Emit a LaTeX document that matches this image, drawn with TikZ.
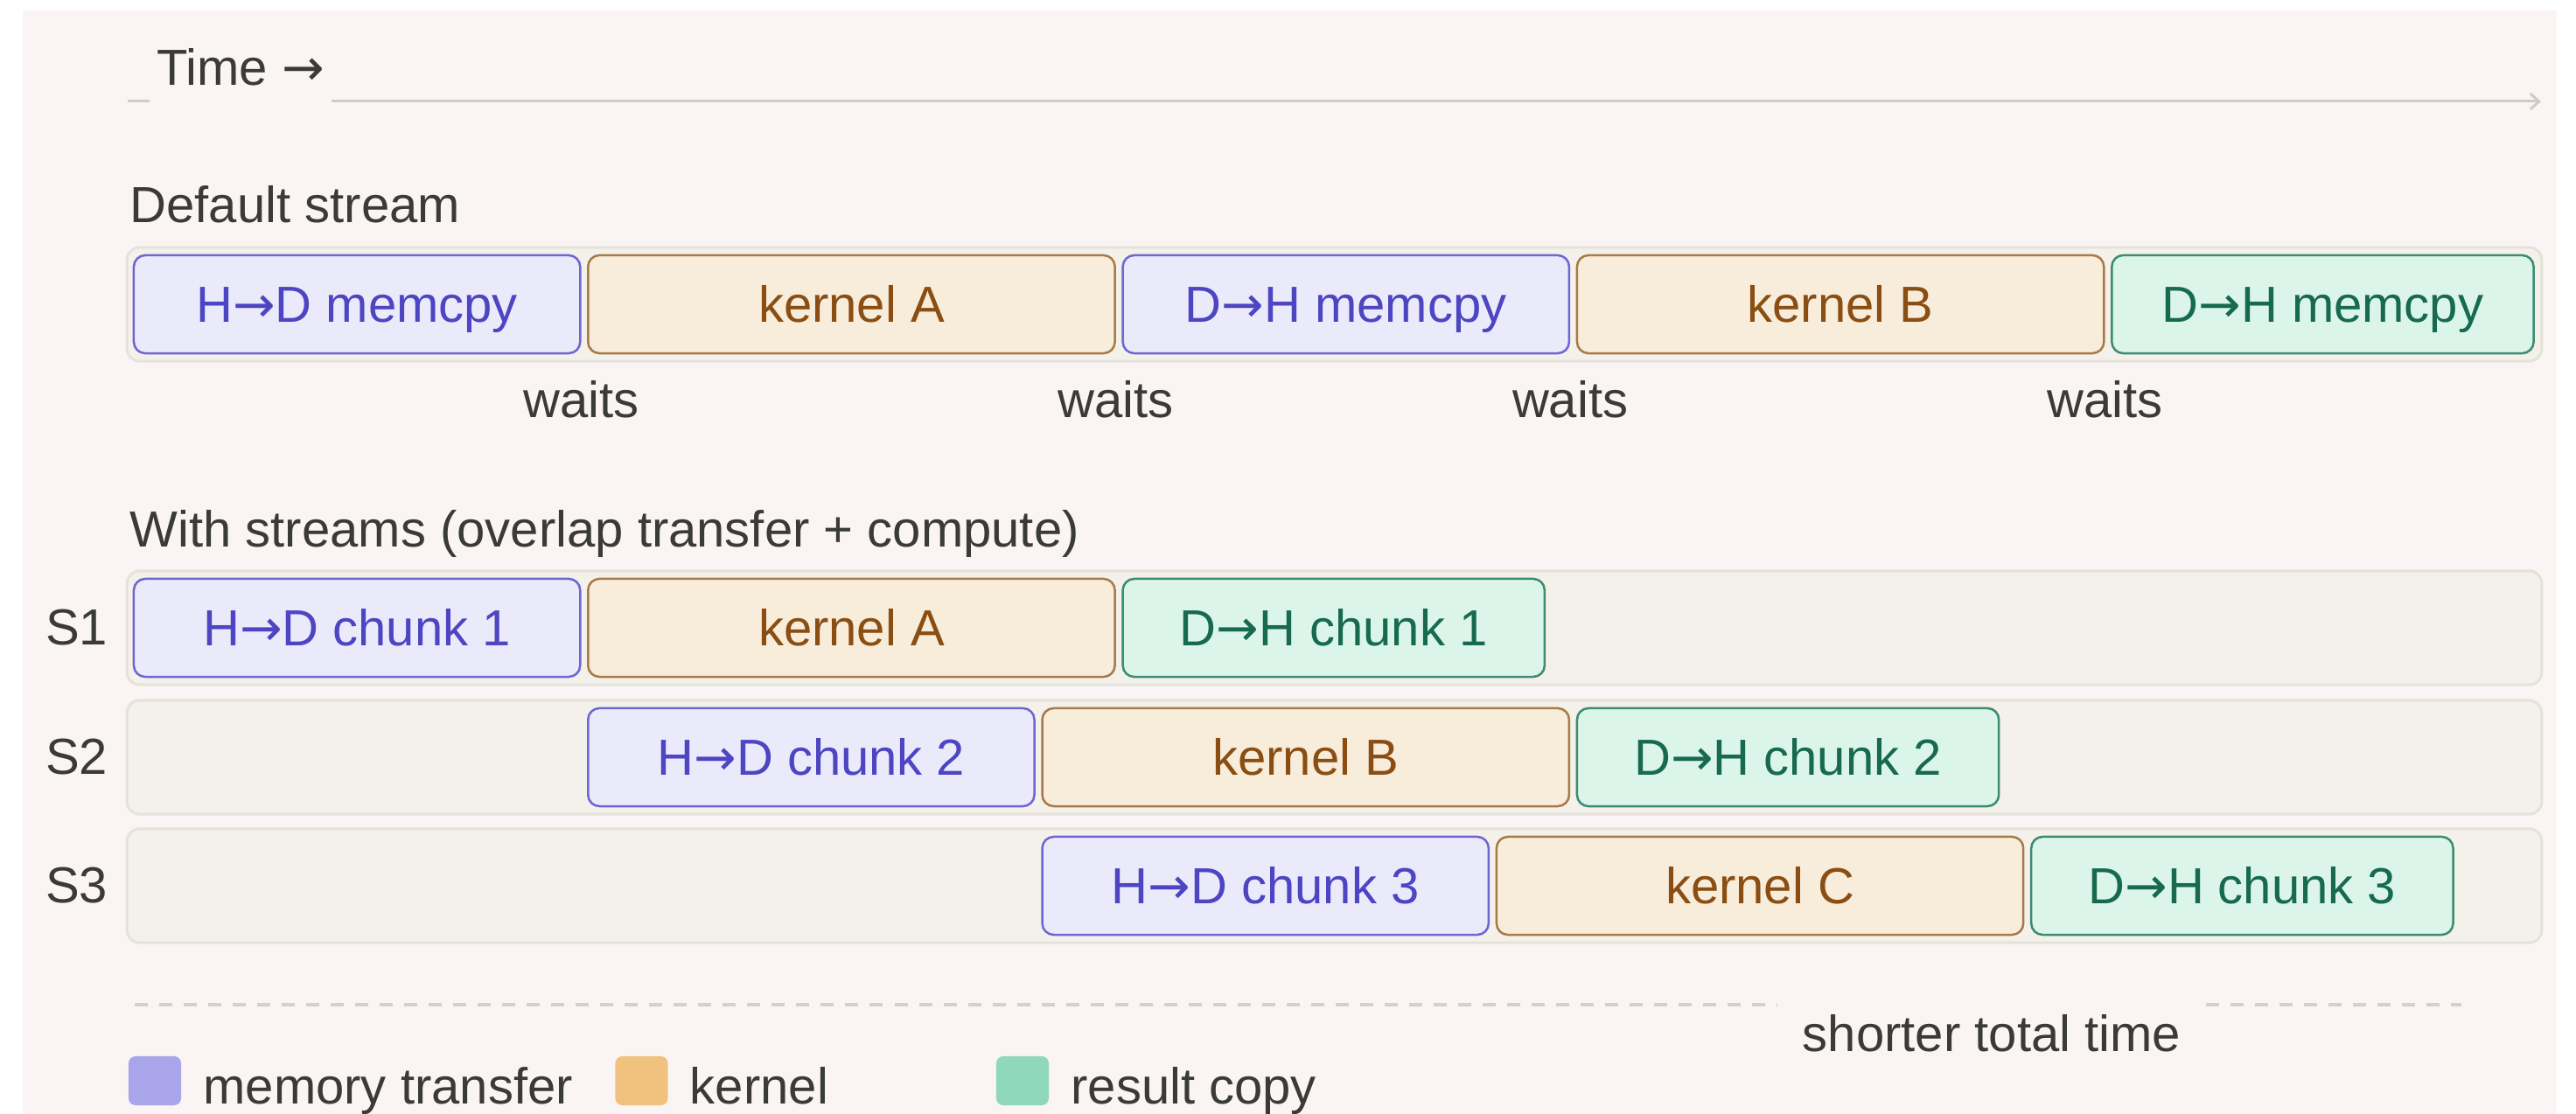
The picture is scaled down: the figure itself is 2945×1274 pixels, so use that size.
\documentclass[tikz,border=0pt]{standalone}
\usepackage{fontspec}
\setmainfont{Liberation Sans}
\newfontfamily\arrowfont{DejaVu Sans}
\usetikzlibrary{positioning}
\usetikzlibrary{arrows.meta}
\definecolor{pagebg}{HTML}{FAF5F4}
\definecolor{ink}{HTML}{3A3A36}
\definecolor{lanefill}{HTML}{F4F0EA}
\definecolor{laneline}{HTML}{E5E2DB}
\definecolor{xferfill}{HTML}{EBEAFB}
\definecolor{xferline}{HTML}{6E66D6}
\definecolor{xfertext}{HTML}{4D45C2}
\definecolor{kernfill}{HTML}{F8ECDB}
\definecolor{kernline}{HTML}{A87A48}
\definecolor{kerntext}{HTML}{8A4E12}
\definecolor{resfill}{HTML}{DCF5EA}
\definecolor{resline}{HTML}{3B8C71}
\definecolor{restext}{HTML}{176A50}
\definecolor{axiscol}{HTML}{CFCCC4}
\definecolor{dashcol}{HTML}{D4D1CA}
\definecolor{xferkey}{HTML}{A9A5EA}
\definecolor{kernkey}{HTML}{F1C27D}
\definecolor{reskey}{HTML}{90D8BC}
\newcommand{\diagramfont}{\fontsize{16.5}{20}\selectfont}
\newcommand{\ra}{{\arrowfont →}}
\tikzstyle{plain text} = [font=\diagramfont, text=ink, inner sep=0pt]
\tikzstyle{timeline box} = [rectangle, rounded corners=0.13cm, line width=0.025cm, minimum height=1.12cm, inner sep=0pt, text height=0.415cm, text depth=0pt, font=\diagramfont]
\tikzstyle{transfer box} = [timeline box, draw=xferline, fill=xferfill, text=xfertext, minimum width=5.1cm]
\tikzstyle{kernel box} = [timeline box, draw=kernline, fill=kernfill, text=kerntext, minimum width=6.02cm]
\tikzstyle{result box} = [timeline box, draw=resline, fill=resfill, text=restext, minimum width=4.82cm]
\tikzstyle{stream lane} = [rectangle, rounded corners=0.14cm, draw=laneline, fill=lanefill, line width=0.03cm, minimum width=27.59cm, minimum height=1.3cm, inner sep=0pt]
\tikzstyle{legend key} = [rectangle, rounded corners=0.08cm, minimum width=0.6cm, minimum height=0.56cm, inner sep=0pt]
\tikzstyle{time axis} = [draw=axiscol, line width=0.03cm]
\tikzstyle{total line} = [draw=dashcol, line width=0.035cm, dash pattern=on 0.15cm off 0.13cm]
\begin{document}
\begin{tikzpicture}[x=0.01cm, y=-0.01cm]
            \useasboundingbox (0,0) rectangle (2945,1274);
            \fill[white] (0,0) rectangle (2945,1274);
            \fill[pagebg] (26,12) rectangle (2923,1274);

            \coordinate (axisstart) at (146,116);
            \coordinate (axisend) at (2905,116);
            \node[plain text, inner xsep=0.08cm, anchor=base] (timelabel) at (275,98) {Time \ra};
            \draw[time axis] (axisstart) -- (axisstart -| timelabel.west);
            \draw[time axis, -{Straight Barb[length=0.1cm, width=0.18cm]}] (axisstart -| timelabel.east) -- (axisend);

            \node[plain text, anchor=base west] (defaultcaption) at (148,255) {Default stream};
            \node[stream lane] (defaultlane) at (1525.5,348) {};
            \node[transfer box] (hdmemcpy) [right = 0.08cm of defaultlane.west] {H\ra D memcpy};
            \node[kernel box] (kernela) [right = 0.065cm of hdmemcpy] {kernel A};
            \node[transfer box] (dhmemcpy) [right = 0.065cm of kernela] {D\ra H memcpy};
            \node[kernel box] (kernelb) [right = 0.065cm of dhmemcpy] {kernel B};
            \node[result box] (dhresult) [right = 0.065cm of kernelb] {D\ra H memcpy};
            \node[plain text, anchor=base] (waitsone) at ([yshift=-0.72cm]hdmemcpy.south east) {waits};
            \node[plain text, anchor=base] (waitstwo) at ([yshift=-0.72cm]kernela.south east) {waits};
            \node[plain text, anchor=base] (waitsthree) at ([yshift=-0.72cm]dhmemcpy.south east) {waits};
            \node[plain text, anchor=base] (waitsfour) at ([yshift=-0.72cm]kernelb.south east) {waits};

            \node[plain text, anchor=base west] (streamscaption) at (148,626) {With streams (overlap transfer + compute)};
            \node[stream lane] (sonelane) at (1525.5,718) {};
            \node[stream lane] (stwolane) at (1525.5,866) {};
            \node[stream lane] (sthreelane) at (1525.5,1013) {};
            \node[plain text] (sone) [left = 0.2cm of sonelane] {S1};
            \node[plain text] (stwo) [left = 0.2cm of stwolane] {S2};
            \node[plain text] (sthree) [left = 0.2cm of sthreelane] {S3};

            \node[transfer box] (hdchunkone) [right = 0.08cm of sonelane.west] {H\ra D chunk 1};
            \node[kernel box] (kernelaone) [right = 0.065cm of hdchunkone] {kernel A};
            \node[result box] (dhchunkone) [right = 0.065cm of kernelaone] {D\ra H chunk 1};

            \node[transfer box, anchor=west] (hdchunktwo) at (kernelaone.west |- stwolane) {H\ra D chunk 2};
            \node[kernel box] (kernelbtwo) [right = 0.065cm of hdchunktwo] {kernel B};
            \node[result box] (dhchunktwo) [right = 0.065cm of kernelbtwo] {D\ra H chunk 2};

            \node[transfer box, anchor=west] (hdchunkthree) at (kernelbtwo.west |- sthreelane) {H\ra D chunk 3};
            \node[kernel box] (kernelcthree) [right = 0.065cm of hdchunkthree] {kernel C};
            \node[result box] (dhchunkthree) [right = 0.065cm of kernelcthree] {D\ra H chunk 3};

            \coordinate (totalstart) at (154,1149);
            \coordinate (totalend) at (2814,1149);
            \node[plain text, inner xsep=0.28cm, anchor=base] (shortertime) at (2277,1203) {shorter total time};
            \draw[total line] (totalstart) -- (totalstart -| shortertime.west);
            \draw[total line] (totalstart -| shortertime.east) -- (totalend);

            \node[legend key, fill=xferkey] (keyxfer) at (177,1236) {};
            \node[plain text, anchor=base west] (keyxfertext) at ([xshift=0.24cm, yshift=0.02cm]keyxfer.south east) {memory transfer};
            \node[legend key, fill=kernkey] (keykernel) at (733.5,1236) {};
            \node[plain text, anchor=base west] (keykerneltext) at ([xshift=0.24cm, yshift=0.02cm]keykernel.south east) {kernel};
            \node[legend key, fill=reskey] (keyresult) at (1169,1236) {};
            \node[plain text, anchor=base west] (keyresulttext) at ([xshift=0.24cm, yshift=0.02cm]keyresult.south east) {result copy};
          \end{tikzpicture}
\end{document}
